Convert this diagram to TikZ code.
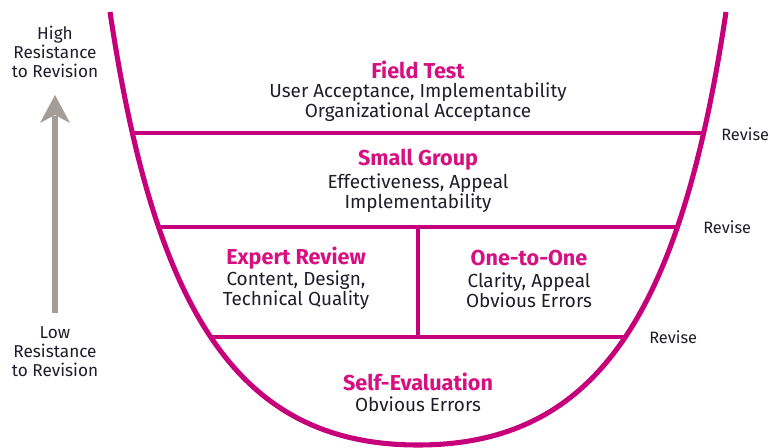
\documentclass[tikz,border=0pt]{standalone}
\usepackage{fontspec}
\setmainfont{Fira Sans}
\definecolor{bowl}{RGB}{198,0,122}
\definecolor{ttl}{RGB}{214,16,128}
\definecolor{txt}{RGB}{30,30,42}
\definecolor{arr}{RGB}{163,158,153}
\begin{document}
\begin{tikzpicture}[x=0.75pt,y=-0.75pt,
  title/.style={text=ttl,font=\fontsize{16.2}{16}\selectfont\bfseries,inner sep=0pt},
  body/.style={text=txt,font=\fontsize{14.2}{14.8}\selectfont,align=center,inner sep=0pt},
  side/.style={text=txt,font=\fontsize{12.9}{14.2}\selectfont,align=center,inner sep=0pt},
  revise/.style={text=txt,font=\fontsize{12.3}{13}\selectfont,anchor=west,inner sep=0pt},
  hline/.style={draw=bowl,line width=3pt},
  bowlline/.style={draw=bowl,line width=3.8pt}]
\useasboundingbox (0,0) rectangle (770,448);
% clipped dividers
\begin{scope}
  \clip (110,12) .. controls (155,312) and (238,445) .. (418,445) .. controls (598,445) and (681,312) .. (726,12) -- cycle;
  \draw[hline] (0,133) -- (770,133);
  \draw[hline] (0,227) -- (770,227);
  \draw[hline] (0,337) -- (770,337);
  \draw[hline] (418,227) -- (418,337);
\end{scope}
\draw[bowlline] (110,12) .. controls (155,312) and (238,445) .. (418,445) .. controls (598,445) and (681,312) .. (726,12);
% blocks
\node[title] (ft) at (418,70) {Field Test};
\node[body] (ftb) at (418,102) {User Acceptance, Implementability\\Organizational Acceptance};
\node[title] (sg) at (418,160) {Small Group};
\node[body] (sgb) at (418,193) {Effectiveness, Appeal\\Implementability};
\node[title] (er) at (296,258) {Expert Review};
\node[body] (erb) at (296,290) {Content, Design,\\Technical Quality};
\node[title] (oo) at (529,258) {One-to-One};
\node[body] (oob) at (529,290) {Clarity, Appeal\\Obvious Errors};
\node[title] (se) at (418,382) {Self-Evaluation};
\node[body] (seb) at (418,404) {Obvious Errors};
% revise labels
\node[revise] (r1) at (721,134) {Revise};
\node[revise] (r2) at (703,227) {Revise};
\node[revise] (r3) at (649,337) {Revise};
% side labels
\node[side] (hi) at (55,52) {High\\Resistance\\to Revision};
\node[side] (lo) at (55,352) {Low\\Resistance\\to Revision};
% arrow
\coordinate (abot) at (55,313);
\coordinate (atop) at (55,116);
\draw[arr,line width=4.5pt] (abot) -- (atop);
\fill[arr] (55,95) -- (70,123) -- (55,115) -- (40,123) -- cycle;
\end{tikzpicture}
\end{document}
